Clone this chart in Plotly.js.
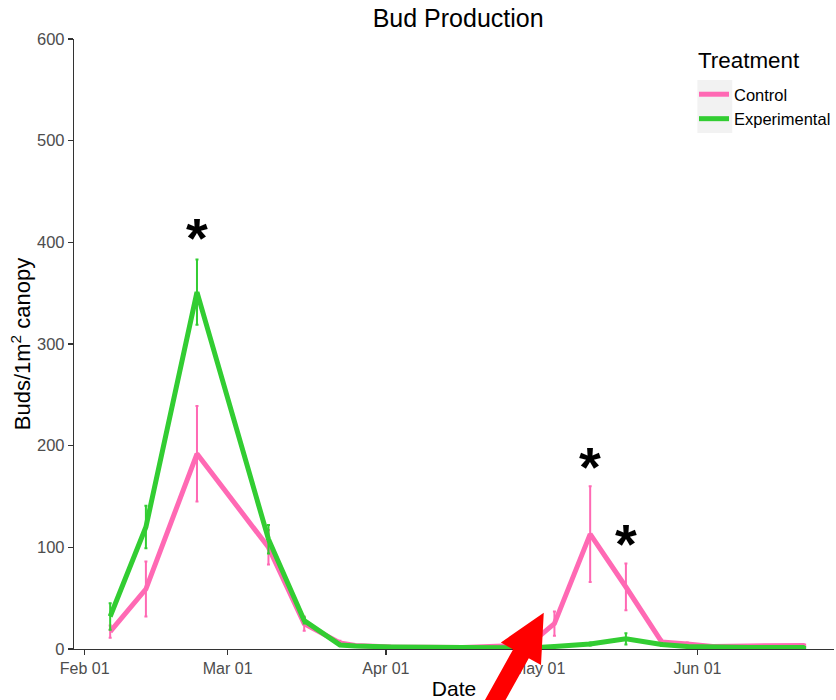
<!DOCTYPE html>
<html>
<head>
<meta charset="utf-8">
<script src="https://cdn.plot.ly/plotly-3.0.1.min.js"></script>
<style>html,body{margin:0;padding:0;background:#fff;}#chart{width:836px;height:700px;}</style>
</head>
<body>
<div id="chart"></div>
<script>
// ---- data ----
var dates = ['2019-02-06','2019-02-13','2019-02-23','2019-03-09','2019-03-16','2019-03-23','2019-03-26','2019-04-02','2019-04-16','2019-04-29','2019-05-04','2019-05-11','2019-05-18','2019-05-25','2019-05-30','2019-06-04','2019-06-11','2019-06-22'];
var control      = [17, 59, 192, 100, 25, 6, 3.5, 2, 1.5, 4, 25, 113, 61, 7, 5, 2.5, 3, 3.5];
var controlErr   = [6, 27, 47, 17, 7, 2, 1, 0.5, 0.5, 2, 12, 47, 23, 2, 1.5, 1, 1, 1];
var experimental = [32, 120, 351, 108, 28, 4, 3, 2, 1.5, 1, 2.5, 5, 10, 4.5, 2.5, 2, 1.5, 1.5];
var expErr       = [13, 21, 32, 14, 3, 1, 1, 0.5, 0.5, 0.5, 1, 1.5, 5.5, 1.5, 1, 0.5, 0.5, 0.5];
var seriesNames  = ['Control', 'Experimental'];
var legendTitle  = 'Treatment';
var tickDates    = ['2019-02-01','2019-03-01','2019-04-01','2019-05-01','2019-06-01'];
var tickLabels   = ['Feb 01','Mar 01','Apr 01','May 01','Jun 01'];
var starDates    = ['2019-02-23','2019-05-11','2019-05-18'];
var starValues   = [413, 187, 112];

var PINK = '#ff69b4', GREEN = '#32cd32';
var FONT = 'Liberation Sans, Arial, sans-serif';

var traces = [
  {x: dates, y: control, name: seriesNames[0], type: 'scatter', mode: 'lines',
   line: {color: PINK, width: 5},
   error_y: {type: 'data', array: controlErr, visible: true, color: PINK, thickness: 2, width: 1.5}},
  {x: dates, y: experimental, name: seriesNames[1], type: 'scatter', mode: 'lines',
   line: {color: GREEN, width: 5},
   error_y: {type: 'data', array: expErr, visible: true, color: GREEN, thickness: 2, width: 1.5}}
];

// plot-area geometry (pixels) for the decorative arrow / legend key
var L = 74, R = 836, T = 39, B = 649;
function px(x, y) { return [(x - L) / (R - L), (B - y) / (B - T)]; }
function arrowPath() {
  var tip = [545, 612.7];
  var u = [0.487, -0.874], n = [0.874, 0.487];
  var headLen = 47, headHalf = 23, shaftHalf = 9, shaftLen = 70;
  var base = [tip[0] - headLen * u[0], tip[1] - headLen * u[1]];
  var bot = [base[0] - shaftLen * u[0], base[1] - shaftLen * u[1]];
  var pts = [
    tip,
    [base[0] + headHalf * n[0], base[1] + headHalf * n[1]],
    [base[0] + shaftHalf * n[0], base[1] + shaftHalf * n[1]],
    [bot[0] + shaftHalf * n[0], bot[1] + shaftHalf * n[1]],
    [bot[0] - shaftHalf * n[0], bot[1] - shaftHalf * n[1]],
    [base[0] - shaftHalf * n[0], base[1] - shaftHalf * n[1]],
    [base[0] - headHalf * n[0], base[1] - headHalf * n[1]]
  ];
  return 'M' + pts.map(function (p) { var q = px(p[0], p[1]); return q[0].toFixed(5) + ',' + q[1].toFixed(5); }).join('L') + 'Z';
}

var keyA = px(699, 80), keyB = px(734, 133);

var annotations = starDates.map(function (d, i) {
  return {x: d, y: starValues[i], xref: 'x', yref: 'y', text: '<b>*</b>', showarrow: false,
          font: {family: FONT, size: 56, color: '#000'}, yanchor: 'middle', yshift: -8};
});
var ttl = px(698, 60);
annotations.push({x: ttl[0], y: ttl[1], xref: 'paper', yref: 'paper', xanchor: 'left', yanchor: 'middle',
                  text: legendTitle, showarrow: false, font: {family: FONT, size: 22.4, color: '#000'}});

var layout = {
  width: 836, height: 700,
  margin: {l: L, r: 836 - R, t: T, b: 700 - B},
  paper_bgcolor: '#fff', plot_bgcolor: '#fff',
  font: {family: FONT, color: '#000'},
  title: {text: 'Bud Production', font: {family: FONT, size: 25, color: '#000'},
          x: 0.548, xref: 'container', xanchor: 'center', y: 0.974, yref: 'container', yanchor: 'middle'},
  xaxis: {type: 'date', range: ['2019-01-29 22:00', '2019-06-27 18:00'],
          tickmode: 'array', tickvals: tickDates, ticktext: tickLabels,
          ticks: 'outside', ticklen: 5, tickwidth: 1.2, tickcolor: '#333',
          showline: true, linecolor: '#333', linewidth: 1.2, showgrid: false, zeroline: false,
          tickfont: {family: FONT, size: 16, color: '#4d4d4d'},
          title: {text: 'Date', font: {family: FONT, size: 21, color: '#000'}, standoff: 6}},
  yaxis: {range: [0, 600], dtick: 100, tick0: 0,
          ticks: 'outside', ticklen: 5, tickwidth: 1.2, tickcolor: '#333',
          showline: true, linecolor: '#333', linewidth: 1.2, showgrid: false, zeroline: false,
          tickfont: {family: FONT, size: 16.5, color: '#4d4d4d'},
          title: {text: 'Buds/1m<sup>2</sup> canopy', font: {family: FONT, size: 22, color: '#000'}, standoff: 0}},
  legend: {x: px(696, 0)[0], y: px(0, 77)[1], xanchor: 'left', yanchor: 'top',
           bgcolor: 'rgba(0,0,0,0)', borderwidth: 0,
           font: {family: FONT, size: 16.5, color: '#000'}},
  shapes: [
    {type: 'rect', xref: 'paper', yref: 'paper', x0: keyA[0], y0: keyB[1], x1: keyB[0], y1: keyA[1],
     fillcolor: '#f2f2f2', line: {width: 0}, layer: 'below'},
    {type: 'path', xref: 'paper', yref: 'paper', path: arrowPath(), fillcolor: '#ff0000', line: {width: 0}, layer: 'above'}
  ],
  annotations: annotations,
  showlegend: true
};

Plotly.newPlot('chart', traces, layout, {displayModeBar: false, staticPlot: true});
</script>
</body>
</html>
